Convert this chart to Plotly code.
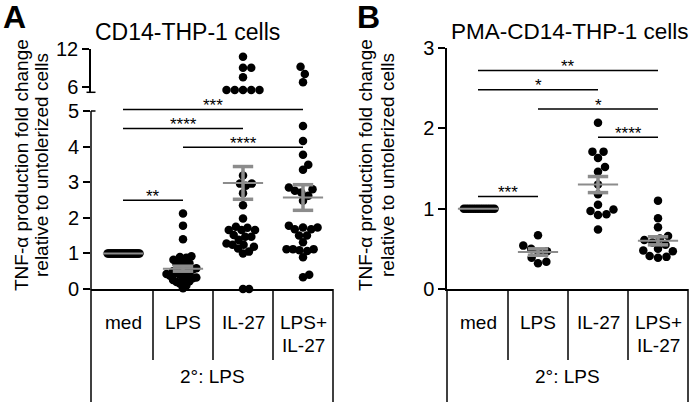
import math
import plotly.graph_objects as go

W, H = 693, 402

# ---------------- data ----------------
categories = ["med", "LPS", "IL-27", "LPS+<br>IL-27"]
group_label = "2°: LPS"
title_a = "CD14-THP-1 cells"
title_b = "PMA-CD14-THP-1 cells"
ytitle_1 = "TNF-α production fold change"
ytitle_2 = "relative to untolerized cells"

# Panel A (values on the 0-5 segment)
a_med = [1.0, 1.0, 1.0, 1.0, 1.0, 1.0, 1.0, 1.0, 1.0, 1.0,
         1.0, 1.0, 1.0, 1.0, 1.0, 1.0, 1.0, 1.0, 1.0, 1.0,
         1.0, 1.0, 1.0, 1.0, 1.0, 1.0, 1.0, 1.0, 1.0, 1.0]
a_lps = [2.12, 1.78, 1.40, 0.92, 0.90, 0.88, 0.82, 0.78, 0.72, 0.70,
         0.65, 0.62, 0.58, 0.55, 0.52, 0.50, 0.47, 0.45, 0.42, 0.40,
         0.37, 0.35, 0.32, 0.30, 0.28, 0.25, 0.22, 0.20, 0.15, 0.10, 0.02]
a_il27 = [3.19, 2.96, 2.90, 2.69, 2.96, 2.35, 1.98, 1.72, 1.66, 1.66,
          1.66, 1.75, 1.47, 1.52, 1.47, 1.28, 1.24, 1.38, 1.24, 1.14,
          1.19, 1.00, 1.05, 0.0, 0.0]
a_lps_il27 = [4.58, 4.16, 3.77, 3.49, 3.35, 2.80, 2.76, 2.85, 2.71, 2.62,
              2.48, 1.73, 1.68, 1.73, 1.68, 1.78, 1.50, 1.50, 1.31, 1.12,
              1.07, 1.09, 1.12, 1.12, 0.89, 0.33, 0.40]
# Panel A (values on the upper, broken segment)
a_il27_high = [5.58, 5.58, 5.58, 5.58, 5.58, 7.57, 9.07, 9.07, 10.8]
a_lps_il27_high = [6.78, 8.08, 9.23]

a_mean = [1.00, 0.57, 2.98, 2.57]
a_sem = [0.00, 0.07, 0.46, 0.36]
a_sig = [(0, 3, 5.04, "***"), (0, 2, 4.51, "****"), (1, 3, 3.98, "****"), (0, 1, 2.49, "**")]

# Panel B
b_med = [1.0, 1.0, 1.0, 1.0, 1.0, 1.0, 1.0, 1.0, 1.0, 1.0, 1.0, 1.0, 1.0, 1.0]
b_lps = [0.67, 0.54, 0.50, 0.47, 0.45, 0.39, 0.34, 0.32]
b_il27 = [2.07, 1.71, 1.71, 1.63, 1.52, 1.46, 1.30, 1.18, 1.05, 0.99, 0.97, 0.93, 0.92, 0.74]
b_lps_il27 = [1.10, 0.88, 0.77, 0.66, 0.63, 0.61, 0.58, 0.55, 0.50, 0.48, 0.47, 0.41, 0.40, 0.39]
b_mean = [1.00, 0.46, 1.30, 0.60]
b_sem = [0.00, 0.04, 0.10, 0.05]
b_sig = [(0, 3, 2.72, "**"), (0, 2, 2.48, "*"), (1, 3, 2.24, "*"), (2, 3, 1.89, "****"), (0, 1, 1.15, "***")]

# ---------------- layout geometry (pixels) ----------------
FONT = "Liberation Sans, Arial, sans-serif"
BLACK = "#000000"
GRAY = "#8c8c8c"
CAT_PX = 60.0          # pixels per category
DOT = 8.5
SPREAD = 16.5          # max half-width of a column of dots (px)

A_X0, A_X1 = 91, 333
A_ZERO, A_PPU, A_TOP = 289, 35.6, 107
A_UP_12, A_UP_6, A_UP_BOT = 49, 87.3, 92.3
B_X0, B_X1, B_ZERO, B_TOP = 447, 688, 289, 48
A_FIRST = 123
B_FIRST = 478


def px(x):
    return x / W


def py(y):
    return 1 - y / H


a_xr = [-(A_FIRST - A_X0) / CAT_PX, (A_X1 - A_FIRST) / CAT_PX]
b_xr = [-(B_FIRST - B_X0) / CAT_PX, (B_X1 - B_FIRST) / CAT_PX]
a_yr = [0, (A_ZERO - A_TOP) / A_PPU]
up_ppu = (A_UP_6 - A_UP_12) / 6.0
a_up_r = [6 - (A_UP_BOT - A_UP_6) / up_ppu, 12]
b_ppu = (B_ZERO - B_TOP) / 3.0


def swarm(values, ppu, d=DOT):
    order = sorted(range(len(values)), key=lambda i: values[i])
    placed = []
    offs = [0.0] * len(values)
    for i in order:
        y = values[i] * ppu
        cands = [0.0]
        for (qx, qy) in placed:
            dy = y - qy
            if abs(dy) < d:
                dx = math.sqrt(d * d - dy * dy)
                cands += [qx + dx, qx - dx]
        cands.sort(key=abs)
        chosen = cands[-1]
        for c in cands:
            if all((c - qx) ** 2 + (y - qy) ** 2 >= d * d - 1e-6 for qx, qy in placed):
                chosen = c
                break
        placed.append((chosen, y))
        offs[i] = chosen
    mx = max(abs(o) for o in offs) if offs else 0
    scale = SPREAD / mx if mx > SPREAD else 1.0
    return [o * scale / CAT_PX for o in offs]


fig = go.Figure()


def add_points(groups, ppu, xa, ya):
    xs, ys = [], []
    for i, vals in enumerate(groups):
        if not vals:
            continue
        offs = swarm(vals, ppu)
        xs += [i + o for o in offs]
        ys += list(vals)
    fig.add_trace(go.Scatter(x=xs, y=ys, mode="markers", xaxis=xa, yaxis=ya,
                             marker=dict(size=DOT, color=BLACK, line=dict(width=0)),
                             cliponaxis=False, hoverinfo="skip"))


def add_stats(means, sems, xa, ya):
    mx, my, ex, ey = [], [], [], []
    for i, (m, s) in enumerate(zip(means, sems)):
        mx += [i - 0.335, i + 0.335, None]
        my += [m, m, None]
        if s > 0:
            ex += [i, i, None, i - 0.17, i + 0.17, None, i - 0.17, i + 0.17, None]
            ey += [m - s, m + s, None, m + s, m + s, None, m - s, m - s, None]
    fig.add_trace(go.Scatter(x=mx, y=my, mode="lines", xaxis=xa, yaxis=ya,
                             line=dict(color=GRAY, width=2), hoverinfo="skip"))
    fig.add_trace(go.Scatter(x=ex, y=ey, mode="lines", xaxis=xa, yaxis=ya,
                             line=dict(color=GRAY, width=3.5), hoverinfo="skip"))


annotations = []


def add_sig(sigs, xa, ya):
    lx, ly = [], []
    for (i, j, y, lab) in sigs:
        lx += [i, j, None]
        ly += [y, y, None]
        annotations.append(dict(x=(i + j) / 2, y=y, xref=xa, yref=ya, text=lab,
                                showarrow=False, yanchor="middle", yshift=4,
                                font=dict(size=17, color=BLACK, family=FONT)))
    fig.add_trace(go.Scatter(x=lx, y=ly, mode="lines", xaxis=xa, yaxis=ya,
                             line=dict(color=BLACK, width=1.5), hoverinfo="skip"))


add_points([a_med, a_lps, a_il27, a_lps_il27], A_PPU, "x", "y")
add_points([[], [], a_il27_high, a_lps_il27_high], up_ppu, "x", "y3")
add_points([b_med, b_lps, b_il27, b_lps_il27], b_ppu, "x2", "y2")
add_stats(a_mean, a_sem, "x", "y")
add_stats(b_mean, b_sem, "x2", "y2")
add_sig(a_sig, "x", "y")
add_sig(b_sig, "x2", "y2")


# ---------------- text ----------------
def txt(x, y, s, size, bold=False, angle=0, xanchor="center"):
    t = "<b>%s</b>" % s if bold else s
    annotations.append(dict(x=px(x), y=py(y), xref="paper", yref="paper", text=t,
                            showarrow=False, textangle=angle, xanchor=xanchor,
                            yanchor="middle",
                            font=dict(size=size, color=BLACK, family=FONT)))


txt(14, 17, "A", 32, bold=True)
txt(368, 17, "B", 32, bold=True)
txt(187, 32, title_a, 23)
txt(570, 32, title_b, 22.5)
txt(22, 165, ytitle_1, 19, angle=-90)
txt(42, 165, ytitle_2, 19, angle=-90)
txt(366, 165, ytitle_1, 19, angle=-90)
txt(388, 165, ytitle_2, 19, angle=-90)

shapes = []


def line(x0, y0, x1, y1, w=1.5):
    shapes.append(dict(type="line", xref="paper", yref="paper",
                       x0=px(x0), y0=py(y0), x1=px(x1), y1=py(y1),
                       line=dict(color=BLACK, width=w)))


def table(first_px, xr, zero):
    bounds = [xr[0], 0.5, 1.5, 2.5, xr[1]]
    for k, b in enumerate(bounds):
        xb = first_px + b * CAT_PX
        outer = k in (0, len(bounds) - 1)
        line(xb, zero, xb, 402 if outer else 360)
    for i, c in enumerate(categories):
        for r, part in enumerate(c.split("<br>")):
            txt(first_px + i * CAT_PX, 322 + r * 23, part, 19)
    mid = first_px + (bounds[0] + bounds[-1]) / 2 * CAT_PX
    txt(mid, 376, group_label, 19)


table(A_FIRST, a_xr, A_ZERO)
table(B_FIRST, b_xr, B_ZERO)

# broken-axis marks and lower axis line for panel A
line(A_X0, A_ZERO + 0.7, A_X0, 111)
line(A_X0, 111, A_X0 + 4.5, 111)
line(A_X0 - 4.5, A_UP_BOT, A_X0 + 4.5, A_UP_BOT)

axis_common = dict(showgrid=False, zeroline=False, linecolor=BLACK, linewidth=1.5,
                   tickcolor=BLACK, tickwidth=1.5, automargin=False,
                   tickfont=dict(size=20, color=BLACK, family=FONT))

fig.update_layout(
    width=W, height=H, margin=dict(l=0, r=0, t=0, b=0, pad=0, autoexpand=False),
    paper_bgcolor="white", plot_bgcolor="white", showlegend=False,
    font=dict(family=FONT, color=BLACK),
    xaxis=dict(domain=[px(A_X0), px(A_X1)], range=a_xr, anchor="y",
               showline=True, showticklabels=False, ticks="", **axis_common),
    yaxis=dict(domain=[py(A_ZERO), py(A_TOP)], range=a_yr, anchor="x",
               tickvals=[0, 1, 2, 3, 4, 5], ticks="outside", ticklen=7,
               showline=False, **axis_common),
    yaxis3=dict(domain=[py(A_UP_BOT), py(A_UP_12)], range=a_up_r, anchor="x",
                tickvals=[6, 12], ticks="outside", ticklen=7, showline=True, **axis_common),
    xaxis2=dict(domain=[px(B_X0), px(B_X1)], range=b_xr, anchor="y2",
                showline=True, showticklabels=False, ticks="", **axis_common),
    yaxis2=dict(domain=[py(B_ZERO), py(B_TOP)], range=[0, 3], anchor="x2",
                tickvals=[0, 1, 2, 3], ticks="outside", ticklen=7, showline=True, **axis_common),
    annotations=annotations,
    shapes=shapes,
)

fig.write_html("out.html", config={"displayModeBar": False},
               post_script="document.body.style.margin='0';document.body.style.overflow='hidden';")
